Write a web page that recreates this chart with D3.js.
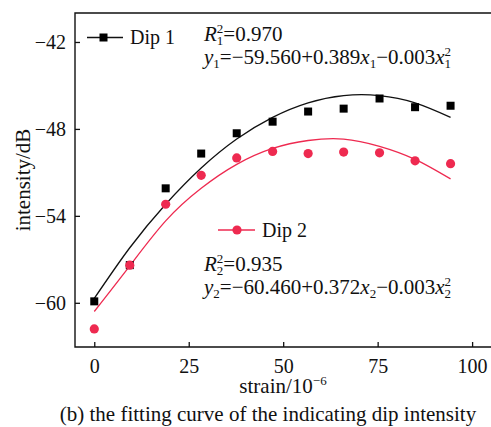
<!DOCTYPE html>
<html>
<head>
<meta charset="utf-8">
<script src="https://cdn.jsdelivr.net/npm/d3@7"></script>
<style>
  body { margin: 0; background: #fff; }
  svg text { font-family: "Liberation Serif", "Times New Roman", serif; fill: #111; }
</style>
</head>
<body>
<svg width="491" height="427"></svg>
<script>
// strain values (10^-6) of the measurements
var strain = [0, 9.4, 18.9, 28.3, 37.7, 47.2, 56.6, 66.0, 75.5, 84.9, 94.3]
// measured dip intensity (dB)
var dip1 = [-59.9, -57.4, -52.1, -49.7, -48.3, -47.5, -46.8, -46.6, -45.9, -46.5, -46.4]
var dip2 = [-61.8, -57.4, -53.2, -51.2, -50.0, -49.55, -49.7, -49.6, -49.65, -50.2, -50.4]
// fitted curves (dB)
var fit1 = [-59.7, -56.2, -53.2, -50.7, -48.7, -47.2, -46.2, -45.7, -45.7, -46.2, -47.2]
var fit2 = [-60.6, -57.45, -54.35, -52.1, -50.45, -49.35, -48.8, -48.7, -49.2, -50.1, -51.45]
var xTicks = [0, 25, 50, 75, 100]
var yTicks = [-42, -48, -54, -60]

var red = '#ee2a50'

//plot window
var margin = { top: 13, right: 0, bottom: 80, left: 75 },
    width = 491 - margin.left - margin.right,
    height = 427 - margin.top - margin.bottom

var svg = d3.select("svg")
var g = svg.append("g").attr("transform", "translate(" + margin.left + "," + margin.top + ")")

var xScale = d3.scaleLinear().domain([-5.1, 105]).range([0, width])
var yScale = d3.scaleLinear().domain([-63.05, -40]).range([height, 0])

//axes with inward ticks
var fmt = function (d) { return d < 0 ? "\u2212" + Math.abs(d) : d }
var xAxis = g.append("g")
    .attr("transform", "translate(0," + height + ")")
    .call(d3.axisBottom(xScale).tickValues(xTicks).tickSize(-5).tickPadding(12).tickFormat(fmt))
var yAxis = g.append("g")
    .call(d3.axisLeft(yScale).tickValues(yTicks).tickSize(-5).tickPadding(9).tickFormat(fmt))
;[xAxis, yAxis].forEach(function (a) {
    a.select(".domain").remove()
    a.selectAll("line").attr("stroke", "#111").attr("stroke-width", 1.3)
    a.selectAll("text").style("font-family", '"Liberation Serif", serif').style("font-size", "20px").attr("fill", "#111")
})

//frame (top, left, bottom; right side is off the picture)
g.append("path")
    .attr("d", "M" + (width + 2) + ",0H0V" + height + "H" + (width + 2))
    .attr("fill", "none").attr("stroke", "#111").attr("stroke-width", 1.4)

//fit curves
var line = d3.line()
    .x(function (d) { return xScale(d[0]) })
    .y(function (d) { return yScale(d[1]) })
    .curve(d3.curveNatural)
g.append("path").datum(d3.zip(strain, fit1)).attr("d", line)
    .attr("fill", "none").attr("stroke", "#111").attr("stroke-width", 1.3)
g.append("path").datum(d3.zip(strain, fit2)).attr("d", line)
    .attr("fill", "none").attr("stroke", red).attr("stroke-width", 1.3)

//measured points
g.selectAll(".sq").data(d3.zip(strain, dip1)).enter().append("rect")
    .attr("class", "sq")
    .attr("x", function (d) { return xScale(d[0]) - 4 })
    .attr("y", function (d) { return yScale(d[1]) - 4 })
    .attr("width", 8).attr("height", 8).attr("fill", "#000")
g.selectAll(".dot").data(d3.zip(strain, dip2)).enter().append("circle")
    .attr("class", "dot")
    .attr("cx", function (d) { return xScale(d[0]) })
    .attr("cy", function (d) { return yScale(d[1]) })
    .attr("r", 4.6).attr("fill", red)

//legends
var leg1 = svg.append("g").attr("transform", "translate(87,37.5)")
leg1.append("line").attr("x1", 0).attr("x2", 36).attr("stroke", "#111").attr("stroke-width", 1.3)
leg1.append("rect").attr("x", 12.5).attr("y", -4).attr("width", 8).attr("height", 8).attr("fill", "#000")
leg1.append("text").attr("x", 43).attr("y", 6.5).style("font-size", "20px").text("Dip 1")

var leg2 = svg.append("g").attr("transform", "translate(218,230)")
leg2.append("line").attr("x1", 0).attr("x2", 37).attr("stroke", red).attr("stroke-width", 1.3)
leg2.append("circle").attr("cx", 19).attr("cy", 0).attr("r", 4.6).attr("fill", red)
leg2.append("text").attr("x", 44).attr("y", 6.5).style("font-size", "20px").text("Dip 2")

//rich text helper: segments of {t, i (italic), sub, sup}
function rich(x, y, segs) {
    var t = svg.append("text").attr("x", x).attr("y", y).style("font-size", "21px")
    var shift = 0
    segs.forEach(function (s) {
        if (s.sup || s.sub) {
            var w = 0
            if (s.sup) {
                var sp = t.append("tspan").attr("dy", -8 - shift).style("font-size", "13px").text(s.sup)
                shift = -8
                w = sp.node().getComputedTextLength()
            }
            if (s.sub) {
                var sb = t.append("tspan").attr("dy", 4 - shift).style("font-size", "13px").text(s.sub)
                if (s.sup) sb.attr("dx", -w)
                shift = 4
            }
        } else {
            var n = t.append("tspan").attr("dy", -shift).text(s.t)
            if (s.i) n.style("font-style", "italic")
            shift = 0
        }
    })
}

rich(204, 41, [{ t: "R", i: 1 }, { sup: "2", sub: "1" }, { t: "=0.970" }])
rich(204, 64, [{ t: "y", i: 1 }, { sub: "1" }, { t: "=\u221259.560+0.389" }, { t: "x", i: 1 }, { sub: "1" },
    { t: "\u22120.003" }, { t: "x", i: 1 }, { sup: "2", sub: "1" }])
rich(204, 271, [{ t: "R", i: 1 }, { sup: "2", sub: "2" }, { t: "=0.935" }])
rich(204, 294, [{ t: "y", i: 1 }, { sub: "2" }, { t: "=\u221260.460+0.372" }, { t: "x", i: 1 }, { sub: "2" },
    { t: "\u22120.003" }, { t: "x", i: 1 }, { sup: "2", sub: "2" }])

//axis titles and caption
var xl = svg.append("text").attr("x", 283).attr("y", 393).attr("text-anchor", "middle").style("font-size", "21px")
xl.append("tspan").text("strain/10")
xl.append("tspan").attr("dy", -8).style("font-size", "13px").text("\u22126")

svg.append("text")
    .attr("transform", "translate(30,180) rotate(-90)")
    .attr("text-anchor", "middle").style("font-size", "21px")
    .text("intensity/dB")

svg.append("text").attr("x", 268).attr("y", 421).attr("text-anchor", "middle").style("font-size", "21px")
    .text("(b) the fitting curve of the indicating dip intensity")
</script>
</body>
</html>
